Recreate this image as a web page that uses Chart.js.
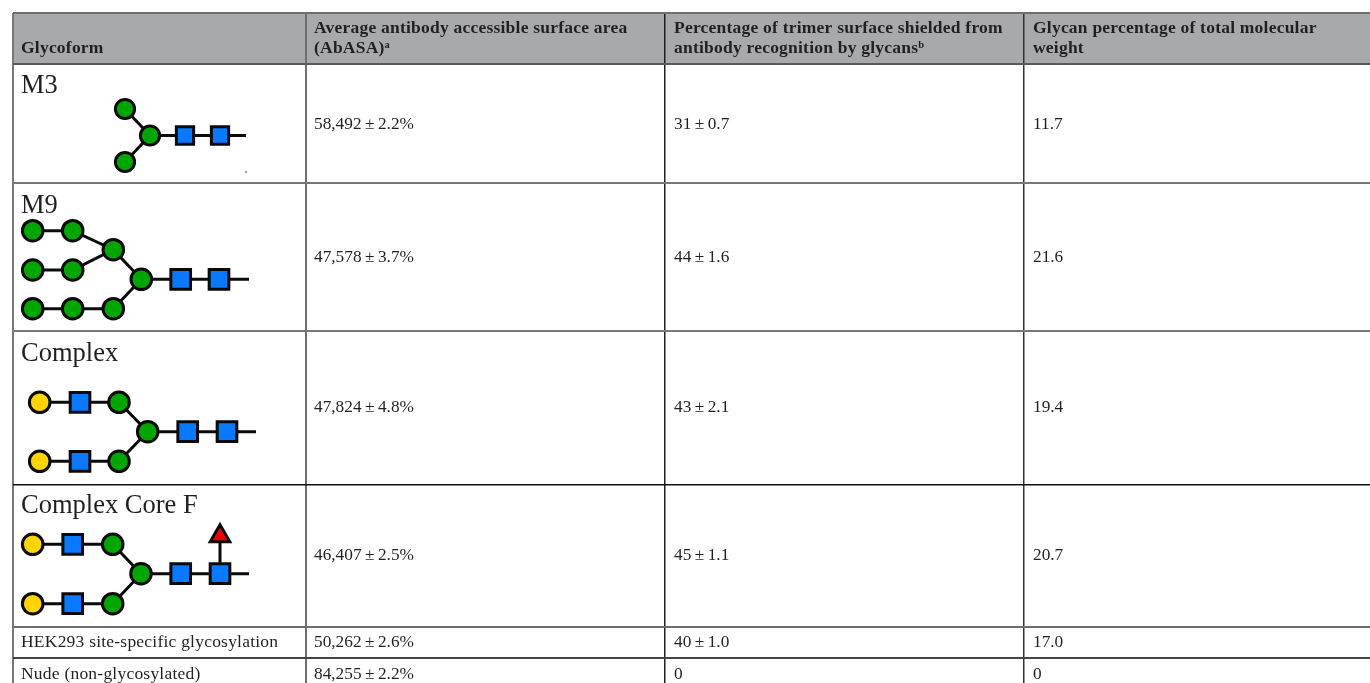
<!DOCTYPE html>
<html><head><meta charset="utf-8">
<style>html,body{margin:0;padding:0;background:#fff}canvas{display:block}</style>
<script src="https://cdn.jsdelivr.net/npm/chart.js@4"></script>
</head><body><canvas id="c" width="1370" height="683"></canvas>
<script>
// ---- table content ----
const headers = [["Glycoform"],
  ["Average antibody accessible surface area","(AbASA)|a"],
  ["Percentage of trimer surface shielded from","antibody recognition by glycans|b"],
  ["Glycan percentage of total molecular","weight"]];
const glycoforms = ["M3","M9","Complex","Complex Core F","HEK293 site-specific glycosylation","Nude (non-glycosylated)"];
const abasa = ["58,492\u2009±\u20092.2%","47,578\u2009±\u20093.7%","47,824\u2009±\u20094.8%","46,407\u2009±\u20092.5%","50,262\u2009±\u20092.6%","84,255\u2009±\u20092.2%"];
const shielded = ["31\u2009±\u20090.7","44\u2009±\u20091.6","43\u2009±\u20092.1","45\u2009±\u20091.1","40\u2009±\u20091.0","0"];
const weight = ["11.7","21.6","19.4","20.7","17.0","0"];

// ---- table rules, on the scales ----
const columnEdges = [13,306,665,1024];
const rowEdges = [13,64,183,331,485,627,658];
const columnColors = ["#77787b","#6d6e71","#231f20","#333333"];
const rowColors = ["#6d6e71","#58595b","#77787b","#77787b","#111111","#6d6e71","#444444"];
const columnWidths = [2,2,1.5,1.5];
const rowWidths = [2,2,2,2,1.5,2,2];
const textColumns = [21,314,674,1033];
const rowBaselines = [129,262,412,560,647,679];
const titleBaselines = [93,213,361,513];
const headerBaselines = [33,53];

// ---- glycan diagrams ----
const m3Green = [[125,109],[150,135.5],[125,162]];
const m3Blue = [[185,135.5],[220,135.5]];
const greenNodes = [
 [32.7,230.7],[72.7,230.7],[113.3,249.7],[32.7,270],[72.7,270],[141.3,279.3],[32.7,308.7],[72.7,308.7],[113.3,308.7],
 [119,402.3],[147.7,431.7],[119,461.3],
 [112.7,544.3],[141,573.7],[112.7,603.7]];
const yellowNodes = [[39.7,402.3],[39.7,461.3],[32.7,544.3],[32.7,603.7]];
const blueNodes = [
 [180.7,279.3],[219,279.3],
 [80,402.3],[187.7,431.7],[227,431.7],[80,461.3],
 [72.7,544.3],[180.7,573.7],[220,573.7],[72.7,603.7]];
const redNodes = [[220,536]];
const speck = [[246,172]];
const links = [
 [[125,109],[150,135.5],[246,135.5]],[[125,162],[150,135.5]],
 [[32.7,230.7],[72.7,230.7],[113.3,249.7],[141.3,279.3],[249,279.3]],
 [[32.7,270],[72.7,270],[113.3,249.7]],
 [[32.7,308.7],[113.3,308.7],[141.3,279.3]],
 [[39.7,402.3],[119,402.3],[147.7,431.7],[256,431.7]],
 [[39.7,461.3],[119,461.3],[147.7,431.7]],
 [[32.7,544.3],[112.7,544.3],[141,573.7],[249,573.7]],
 [[32.7,603.7],[112.7,603.7],[141,573.7]],
 [[220,536],[220,573.7]]
];

const pts = a => a.map(p => ({x:p[0],y:p[1]}));
const nodeSet = (a,style,bg,r) => ({type:'scatter',data:pts(a),order:1,pointStyle:style,pointRadius:r,
  pointBackgroundColor:bg,pointBorderColor:'#0a0a0a',pointBorderWidth:3,showLine:false});
const datasets = [
  nodeSet(m3Green,'circle','#00a600',9.6),
  nodeSet(m3Blue,'rect','#0a78ff',12.2),
  nodeSet(greenNodes,'circle','#00a600',10.3),
  nodeSet(yellowNodes,'circle','#ffd400',10.3),
  nodeSet(blueNodes,'rect','#0a78ff',13.9),
  nodeSet(redNodes,'triangle','#ee0000',11.3),
  {type:'scatter',data:pts(speck),order:1,pointRadius:1.2,pointBackgroundColor:'#9aa6ad',pointBorderWidth:0,showLine:false},
  ...links.map(l => ({type:'scatter',data:pts(l),order:2,showLine:true,borderColor:'#0a0a0a',borderWidth:3,pointRadius:0,tension:0}))
];

const bodyFont = '17.3px "Liberation Serif"';
const nameFont = '17.5px "Liberation Serif"';
const headFont = 'bold 17.5px "Liberation Serif"';
const supFont = 'bold 10.5px "Liberation Serif"';
const titleFont = '26.5px "Liberation Serif"';
const ink = '#231f20';

function put(ctx,str,x,y,font,spacing){
  ctx.font = font; ctx.letterSpacing = spacing||'0px'; ctx.fillStyle = ink;
  ctx.textBaseline='alphabetic'; ctx.textAlign='left';
  ctx.fillText(str,x,y);
  return x+ctx.measureText(str).width;
}
const tablePlugin = {
  id:'table',
  beforeDraw(chart){
    const {ctx,scales:{x,y}} = chart;
    const left = x.getPixelForValue(columnEdges[0]), top = y.getPixelForValue(rowEdges[0]);
    ctx.save(); ctx.fillStyle='#a7a9ac';
    ctx.fillRect(left,top,x.getPixelForValue(1370)-left,y.getPixelForValue(rowEdges[1])-top);
    ctx.restore();
  },
  afterDraw(chart){
    const {ctx,scales:{x,y}} = chart;
    ctx.save();
    headers.forEach((lines,c)=>{
      const px = x.getPixelForValue(textColumns[c]);
      const base = lines.length===1 ? [headerBaselines[1]] : headerBaselines;
      lines.forEach((ln,i)=>{
        const [main,sup] = ln.split('|');
        const end = put(ctx,main,px,y.getPixelForValue(base[i]),headFont,'0.22px');
        if(sup) put(ctx,sup,end,y.getPixelForValue(base[i]-5),supFont);
      });
    });
    glycoforms.forEach((g,r)=>{
      const by = y.getPixelForValue(rowBaselines[r]);
      if(r<4) put(ctx,g,x.getPixelForValue(textColumns[0]),y.getPixelForValue(titleBaselines[r]),titleFont);
      else put(ctx,g,x.getPixelForValue(textColumns[0]),by,nameFont,'0.22px');
      put(ctx,abasa[r],x.getPixelForValue(textColumns[1]),by,bodyFont);
      put(ctx,shielded[r],x.getPixelForValue(textColumns[2]),by,bodyFont);
      put(ctx,weight[r],x.getPixelForValue(textColumns[3]),by,bodyFont);
    });
    ctx.restore();
  }
};
new Chart(document.getElementById('c'),{
  type:'scatter',
  data:{datasets},
  plugins:[tablePlugin],
  options:{
    responsive:false,animation:false,devicePixelRatio:1,
    layout:{autoPadding:false,padding:{left:13,top:13,right:0,bottom:0}},
    plugins:{legend:{display:false},tooltip:{enabled:false},title:{display:false}},
    scales:{
      x:{type:'linear',min:13,max:1370,
        afterBuildTicks(s){s.ticks=columnEdges.map(v=>({value:v}));},
        ticks:{display:false},border:{display:false},
        grid:{drawTicks:false,color:c=>columnColors[c.index],lineWidth:c=>columnWidths[c.index]}},
      y:{type:'linear',reverse:true,min:13,max:683,
        afterBuildTicks(s){s.ticks=rowEdges.map(v=>({value:v}));},
        ticks:{display:false},border:{display:false},
        grid:{drawTicks:false,color:c=>rowColors[c.index],lineWidth:c=>rowWidths[c.index]}}
    }
  }
});
</script>
</body></html>
